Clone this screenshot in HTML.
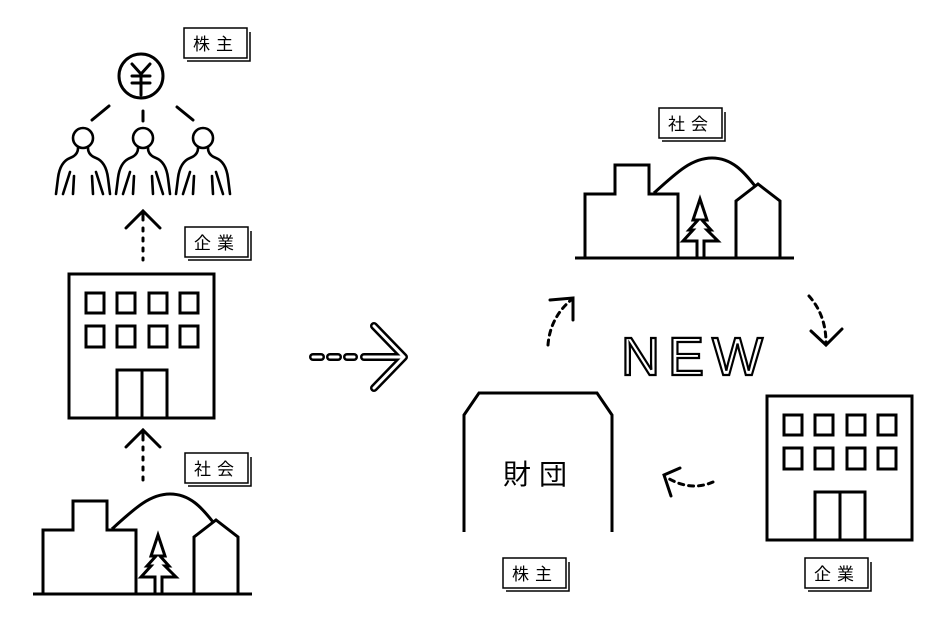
<!DOCTYPE html>
<html><head><meta charset="utf-8"><style>
html,body{margin:0;padding:0;background:#fff;}
svg{display:block}
.l{font-family:"Liberation Sans","Noto Sans CJK JP",sans-serif;font-size:17px;letter-spacing:6px}
</style></head><body>
<svg width="940" height="629" viewBox="0 0 940 629" xmlns="http://www.w3.org/2000/svg">
<defs>
<g id="bld" fill="none" stroke="#000" stroke-width="3">
  <rect x="69" y="274" width="145" height="144"/>
  <rect x="86" y="293" width="18" height="20"/><rect x="117" y="293" width="18" height="20"/><rect x="149" y="293" width="18" height="20"/><rect x="180" y="293" width="18" height="20"/>
  <rect x="86" y="326" width="18" height="21"/><rect x="117" y="326" width="18" height="21"/><rect x="149" y="326" width="18" height="21"/><rect x="180" y="326" width="18" height="21"/>
  <rect x="117" y="370" width="50" height="48"/><line x1="142" y1="370" x2="142" y2="418"/>
</g>
<g id="soc" fill="none" stroke="#000" stroke-width="3" stroke-linejoin="miter">
  <line x1="33" y1="594" x2="252" y2="594"/>
  <path d="M43 594 V530 H73 V501 H107 V530 H136 V594"/>
  <path d="M112 529 C135 508 150 494 170 494 C190 494 202 508 213 522"/>
  <path d="M194 594 V537 L216 520 L238 537 V594"/>
  <path d="M155 594 V577 H141 L151 566 H147 L156 556 H151 L158 535 L165 556 H160 L169 566 H165 L176 577 H162 V594"/>
</g>
<g id="lbl">
  <path d="M3 33 H66 V4" fill="none" stroke="#000" stroke-width="1.5"/>
  <rect x="0" y="0" width="63" height="30" fill="#fff" stroke="#000" stroke-width="1.5"/>
</g>
</defs>

<use href="#lbl" x="184" y="28"/><text class="l" x="193" y="50">株主</text>
<use href="#lbl" x="185" y="227"/><text class="l" x="194" y="249">企業</text>
<use href="#lbl" x="185" y="453"/><text class="l" x="194" y="475">社会</text>
<use href="#lbl" x="659" y="108"/><text class="l" x="668" y="130">社会</text>
<use href="#lbl" x="503" y="558"/><text class="l" x="512" y="580">株主</text>
<use href="#lbl" x="805" y="558"/><text class="l" x="814" y="580">企業</text>

<g fill="none" stroke="#000" stroke-width="3" stroke-linecap="round">
  <circle cx="141" cy="76" r="22"/>
  <line x1="92" y1="120" x2="109" y2="106"/><line x1="143" y1="111" x2="143" y2="121"/><line x1="177" y1="107" x2="193" y2="120"/>
  <path d="M132 64 L141 74 L150 64 M132 76 H150 M132 83 H150 M141 74 V95"/>
</g>
<g id="p" fill="none" stroke="#000" stroke-width="2.6" stroke-linecap="round">
  <circle cx="83" cy="138" r="10"/>
  <path d="M78 148 Q78 155 70 158 Q60 162 58 178 L56 194"/>
  <path d="M88 148 Q88 155 96 158 Q106 162 108 178 L110 194"/>
  <path d="M70 172 L63 194 M74 176 L73 194 M96 172 L103 194 M92 176 L93 194"/>
</g>
<use href="#p" x="60"/><use href="#p" x="120"/>

<g fill="none" stroke="#000" stroke-width="3" stroke-linecap="round">
  <path d="M126 228 L143 211 L160 228 M143 211 V220"/>
  <path d="M126 447 L143 430 L160 447 M143 430 V440"/>
</g>
<g fill="none" stroke="#000" stroke-width="3" stroke-linecap="round" stroke-dasharray="3 7">
  <line x1="143" y1="228" x2="143" y2="260"/>
  <line x1="143" y1="447" x2="143" y2="480"/>
</g>

<use href="#bld"/>
<use href="#soc"/>
<use href="#soc" x="542" y="-336"/>
<use href="#bld" x="698" y="122"/>

<g fill="none" stroke-linecap="round" stroke-linejoin="round">
  <g stroke="#000" stroke-width="8">
    <line x1="313" y1="357" x2="321" y2="357"/><line x1="330" y1="357" x2="338" y2="357"/><line x1="347" y1="357" x2="354" y2="357"/>
    <path d="M364 357 H403 M374 326 L404 357 L374 388"/>
  </g>
  <g stroke="#fff" stroke-width="3">
    <line x1="313" y1="357" x2="321" y2="357"/><line x1="330" y1="357" x2="338" y2="357"/><line x1="347" y1="357" x2="354" y2="357"/>
    <path d="M364 357 H403 M374 326 L404 357 L374 388"/>
  </g>
</g>

<text x="621" y="375" font-family="Liberation Sans, sans-serif" font-size="54" letter-spacing="8" fill="#fff" stroke="#000" stroke-width="2.2">NEW</text>

<g fill="none" stroke="#000" stroke-width="3" stroke-linecap="round">
  <path d="M550 300 L573 298 L573 320"/>
  <path d="M811 331 L826 345 L842 329"/>
  <path d="M680 468 L664 475 L671 496"/>
</g>
<g fill="none" stroke="#000" stroke-width="3" stroke-linecap="round" stroke-dasharray="5 5">
  <path d="M548 345 Q550 318 571 300"/>
  <path d="M809 296 Q826 315 826 343"/>
  <path d="M713 482 Q690 492 666 477"/>
</g>

<path d="M464 532 V415 L479 393 H597 L612 415 V532" fill="none" stroke="#000" stroke-width="3"/>
<text x="539" y="484" text-anchor="middle" font-family="Liberation Sans, Noto Sans CJK JP, sans-serif" font-size="28" letter-spacing="8">財団</text>
</svg>
</body></html>
